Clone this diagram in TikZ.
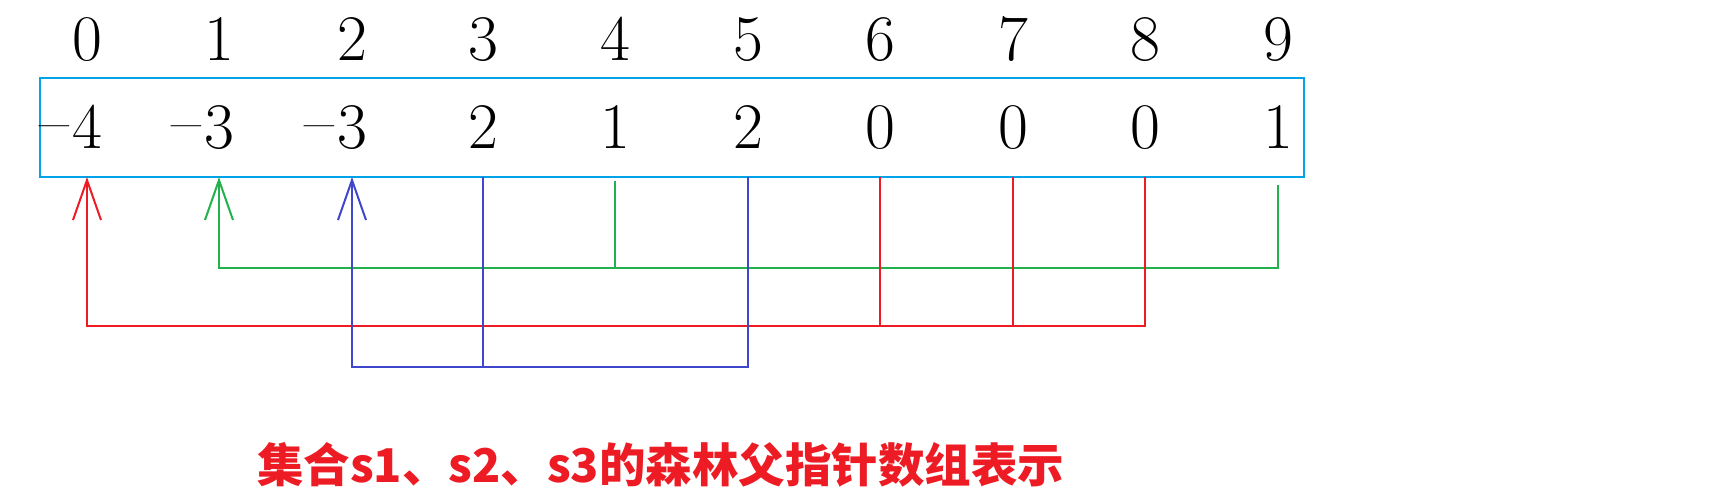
\documentclass[tikz,border=0pt]{standalone}
\usepackage{fontspec}
\newfontfamily\cjk{Noto Sans CJK SC}
\usetikzlibrary{arrows.meta}
\definecolor{boxblue}{RGB}{0,162,232}
\definecolor{pred}{RGB}{237,28,36}
\definecolor{pgreen}{RGB}{34,177,76}
\definecolor{pblue}{RGB}{63,72,204}
\newcommand\mns{\llap{\raisebox{5pt}{–}\kern3pt}}
\begin{document}
\begin{tikzpicture}[x=1pt,y=-1pt,
  num/.style={inner sep=0pt, anchor=base, font=\fontsize{65}{70}\selectfont},
  link/.style={line width=2pt},
  up/.style={link, -{Straight Barb[length=40pt,width=28pt]}},
  arraybox/.style={draw=boxblue, line width=2.5pt, outer sep=0pt, inner sep=0pt,
    minimum width=1264pt, minimum height=99pt}]
\useasboundingbox (0,0) rectangle (1729,501);
\node[arraybox] (arr) at (672,127.5) {};
% index row
\node[num] (i0) at (87,60) {0};
\node[num] (i1) at (219,60) {1};
\node[num] (i2) at (352,60) {2};
\node[num] (i3) at (483,60) {3};
\node[num] (i4) at (615,60) {4};
\node[num] (i5) at (748,60) {5};
\node[num] (i6) at (880,60) {6};
\node[num] (i7) at (1013,60) {7};
\node[num] (i8) at (1145,60) {8};
\node[num] (i9) at (1278,60) {9};
% value row
\node[num] (v0) at (87,148) {\mns4};
\node[num] (v1) at (219,148) {\mns3};
\node[num] (v2) at (352,148) {\mns3};
\node[num] (v3) at (483,148) {2};
\node[num] (v4) at (615,148) {1};
\node[num] (v5) at (748,148) {2};
\node[num] (v6) at (880,148) {0};
\node[num] (v7) at (1013,148) {0};
\node[num] (v8) at (1145,148) {0};
\node[num] (v9) at (1278,148) {1};
% buses
\coordinate (gbus) at (0,268);
\coordinate (rbus) at (0,326);
\coordinate (bbus) at (0,367);
% green
\draw[up,pgreen] ([yshift=-8pt]arr.south -| i9) -- (i9 |- gbus) -- (i1 |- gbus) -- (arr.south -| i1);
\draw[link,pgreen] ([yshift=-4pt]arr.south -| i4) -- (i4 |- gbus);
% red
\draw[up,pred] (arr.south -| i8) -- (i8 |- rbus) -- (i0 |- rbus) -- (arr.south -| i0);
\draw[link,pred] (arr.south -| i6) -- (i6 |- rbus);
\draw[link,pred] (arr.south -| i7) -- (i7 |- rbus);
% blue
\draw[up,pblue] (arr.south -| i5) -- (i5 |- bbus) -- (i2 |- bbus) -- (arr.south -| i2);
\draw[link,pblue] (arr.south -| i3) -- (i3 |- bbus);
% caption
\node[anchor=base west, inner sep=0pt, text=pred, font=\cjk\bfseries\fontsize{46.5}{50}\selectfont] (cap) at (257,482) {集合s1、s2、s3的森林父指针数组表示};
\end{tikzpicture}
\end{document}
